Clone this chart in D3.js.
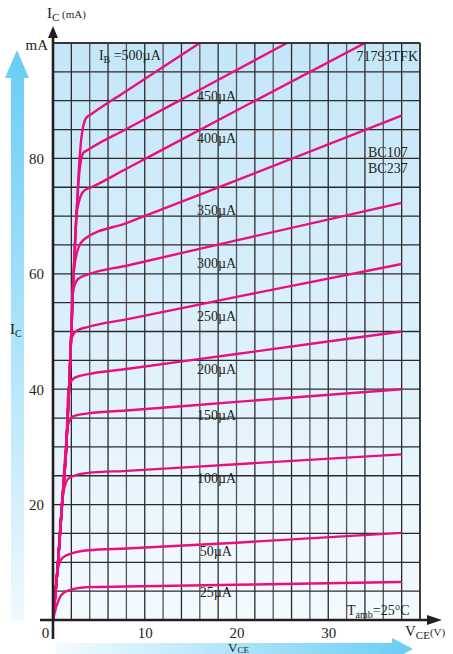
<!DOCTYPE html>
<html>
<head>
<meta charset="utf-8">
<script src="https://cdn.jsdelivr.net/npm/d3@7"></script>
<style>
  html, body { margin: 0; padding: 0; background: #fff; }
  svg text { font-family: "Liberation Serif", "DejaVu Serif", serif; fill: #231f20; }
</style>
</head>
<body>
<div id="chart"></div>
<script>
// output characteristics, V_CE (V) vs I_C (mA)
const xTicks = [0, 10, 20, 30];
const yTicks = [20, 40, 60, 80];

const c25  = [[0,0],[0.36,2.3],[0.91,4.35],[1.64,5.1],[3.83,5.7],[8,5.8],[20,6.1],[38,6.6]];
const c50  = [[0,0],[0.5,8.5],[0.8,10.3],[1.45,11.2],[3.83,12.1],[8,12.4],[20,13.4],[38,15.1]];
const c100 = [[0,0],[0.55,10],[0.98,20],[1.28,23.2],[1.82,24.7],[3.83,25.5],[8,25.85],[20,27.0],[38,28.7]];
const c150 = [[0,0],[0.55,10],[0.98,20],[1.4,30],[1.6,33.6],[2.19,35.3],[3.83,35.8],[8,36.3],[20,37.8],[38,40]];
const c200 = [[0,0],[0.55,10],[0.98,20],[1.45,30],[1.7,40.3],[2.37,42.0],[3.83,42.6],[8,43.5],[20,46.1],[38,50]];
const c250 = [[0,0],[0.55,10],[0.98,20],[1.45,30],[1.75,40],[2.0,48.7],[2.55,50.1],[3.83,50.8],[8,52.1],[20,56.0],[38,61.7]];
const c300 = [[0,0],[0.55,10],[0.98,20],[1.45,30],[1.75,40],[2.0,50],[2.15,56.8],[2.73,59.1],[3.83,59.9],[8,61.4],[20,65.8],[38,72.3]];
const c350 = [[0,0],[0.55,10],[0.98,20],[1.45,30],[1.75,40],[2.0,50],[2.25,60],[2.73,64.3],[3.4,66.0],[8,68.8],[20,76.2],[38,87.4]];
const c400 = [[0,0],[0.55,10],[0.98,20],[1.45,30],[1.75,40],[2.0,50],[2.25,60],[2.55,70],[2.85,72.6],[3.4,74.4],[4.2,75.0],[8,78.2],[20,88.3],[34,100]];
const c450 = [[0,0],[0.55,10],[0.98,20],[1.45,30],[1.75,40],[2.0,50],[2.25,60],[2.55,70],[2.9,78],[3.28,80.9],[3.83,81.5],[8,85.1],[16,91.9],[25.5,100]];
const c500 = [[0,0],[0.55,10],[0.98,20],[1.45,30],[1.75,40],[2.0,50],[2.25,60],[2.55,70],[2.9,80],[3.09,83.5],[3.6,87],[4.2,87.7],[8,91.7],[16,100]];

const curves = [c25, c50, c100, c150, c200, c250, c300, c350, c400, c450, c500];

// curve labels: text, V, mA (baseline start)
const labelText = ["25µA","50µA","100µA","150µA","200µA","250µA","300µA","350µA","400µA","450µA"];
const labelV    = [16, 16, 15.7, 15.7, 15.7, 15.7, 15.7, 15.7, 15.7, 15.7];
const labelI    = [3.9, 11.1, 23.8, 34.6, 42.6, 51.8, 61.0, 70.2, 82.6, 89.9];

const W = 453, H = 654;
const col = "#e8107f";
const lineCol = "#2b2b2b";

const svg = d3.select("#chart").append("svg")
    .attr("width", W)
    .attr("height", H);

const x = d3.scaleLinear().domain([0, 40]).range([53, 420]);
const y = d3.scaleLinear().domain([0, 100]).range([620, 43]);

const defs = svg.append("defs");

let bg = defs.append("linearGradient").attr("id", "bg")
    .attr("x1", 0).attr("y1", 0).attr("x2", 0).attr("y2", 1);
bg.append("stop").attr("offset", "0%").attr("stop-color", "#c4e6f8");
bg.append("stop").attr("offset", "100%").attr("stop-color", "#f4fafe");

let ga = defs.append("linearGradient").attr("id", "upArrow")
    .attr("x1", 0).attr("y1", 0).attr("x2", 0).attr("y2", 1);
ga.append("stop").attr("offset", "0%").attr("stop-color", "#68cdf5");
ga.append("stop").attr("offset", "100%").attr("stop-color", "#f0f9fe");

let gb = defs.append("linearGradient").attr("id", "rightArrow")
    .attr("x1", 0).attr("y1", 0).attr("x2", 1).attr("y2", 0);
gb.append("stop").attr("offset", "0%").attr("stop-color", "#f5fbfe");
gb.append("stop").attr("offset", "100%").attr("stop-color", "#68cdf5");

defs.append("clipPath").attr("id", "plotClip")
    .append("rect")
    .attr("x", x(0)).attr("y", y(100))
    .attr("width", x(40) - x(0)).attr("height", y(0) - y(100));

// big decorative arrows
svg.append("path")
    .attr("d", "M11,620 L11,78 L5,78 L17,50 L29,78 L24,78 L24,620 Z")
    .attr("fill", "url(#upArrow)");
svg.append("path")
    .attr("d", "M56,643 L392,643 L392,638 L413,649 L392,660 L392,655 L56,655 Z")
    .attr("fill", "url(#rightArrow)");

// plot background
svg.append("rect")
    .attr("x", x(0)).attr("y", y(100))
    .attr("width", x(40) - x(0)).attr("height", y(0) - y(100))
    .attr("fill", "url(#bg)");

// grid
let grid = svg.append("g");
grid.selectAll(".vg")
    .data(d3.range(2, 41, 2))
    .enter().append("line")
    .attr("x1", d => x(d)).attr("x2", d => x(d))
    .attr("y1", y(0)).attr("y2", y(100))
    .attr("stroke", (d, i) => i % 2 ? "#555" : lineCol)
    .attr("stroke-width", 1.3);
grid.selectAll(".hg")
    .data(d3.range(5, 101, 5))
    .enter().append("line")
    .attr("x1", x(0)).attr("x2", x(40))
    .attr("y1", d => y(d)).attr("y2", d => y(d))
    .attr("stroke", lineCol)
    .attr("stroke-width", 1.3);

// curve labels
let labels = svg.append("g").style("font-size", "14px");
labels.selectAll("text")
    .data(labelText)
    .enter().append("text")
    .attr("x", (d, i) => x(labelV[i]))
    .attr("y", (d, i) => y(labelI[i]))
    .text(d => d);

let ib = labels.append("text")
    .attr("x", x(5)).attr("y", y(97.1));
ib.append("tspan").text("I");
ib.append("tspan").attr("dy", 3).style("font-size", "10px").text("B");
ib.append("tspan").attr("dy", -3).text(" =500µA");

// curves
let line = d3.line()
    .x(d => x(d[0]))
    .y(d => y(d[1]))
    .curve(d3.curveMonotoneX);

svg.append("g")
    .attr("clip-path", "url(#plotClip)")
    .selectAll("path")
    .data(curves)
    .enter().append("path")
    .attr("d", line)
    .attr("fill", "none")
    .attr("stroke", col)
    .attr("stroke-width", 2.4)
    .attr("stroke-linejoin", "round");

// axes (labels only)
let xAxis = svg.append("g")
    .attr("transform", "translate(0," + y(0) + ")")
    .call(d3.axisBottom(x).tickValues(xTicks).tickSize(0).tickPadding(7));
xAxis.select(".domain").remove();
xAxis.selectAll(".tick text")
    .style("font-family", "Liberation Serif, serif")
    .style("font-size", "15px")
    .attr("fill", "#231f20")
    .attr("dx", d => d === 0 ? -8 : 0);

let yAxis = svg.append("g")
    .attr("transform", "translate(" + (x(0) - 9) + ",0)")
    .call(d3.axisLeft(y).tickValues(yTicks).tickSize(0).tickPadding(0));
yAxis.select(".domain").remove();
yAxis.selectAll(".tick text")
    .style("font-family", "Liberation Serif, serif")
    .style("font-size", "15px")
    .attr("fill", "#231f20");

// axis lines with arrow heads
svg.append("line")
    .attr("x1", x(0)).attr("x2", x(0))
    .attr("y1", 639).attr("y2", 36)
    .attr("stroke", "#231f20").attr("stroke-width", 2.6);
svg.append("path")
    .attr("d", "M" + (x(0) - 5) + ",38 L" + x(0) + ",26 L" + (x(0) + 5) + ",38 Z")
    .attr("fill", "#231f20");
svg.append("line")
    .attr("x1", 40).attr("x2", 430)
    .attr("y1", y(0)).attr("y2", y(0))
    .attr("stroke", "#231f20").attr("stroke-width", 2.6);
svg.append("path")
    .attr("d", "M427," + (y(0) - 5) + " L442," + y(0) + " L427," + (y(0) + 5) + " Z")
    .attr("fill", "#231f20");

// frame top/right
svg.append("line")
    .attr("x1", x(0)).attr("x2", x(40)).attr("y1", y(100)).attr("y2", y(100))
    .attr("stroke", lineCol).attr("stroke-width", 1.6);
svg.append("line")
    .attr("x1", x(40)).attr("x2", x(40)).attr("y1", y(100)).attr("y2", y(0))
    .attr("stroke", lineCol).attr("stroke-width", 1.6);

// texts
let t = svg.append("g").style("font-size", "14px");

let ic = t.append("text").attr("x", 47).attr("y", 18);
ic.append("tspan").style("font-size", "15px").text("I");
ic.append("tspan").attr("dy", 3).style("font-size", "11px").text("C");
ic.append("tspan").attr("dy", -3).style("font-size", "11px").text(" (mA)");

t.append("text").attr("x", 48).attr("y", 50).attr("text-anchor", "end")
    .style("font-size", "15px").text("mA");

let icl = t.append("text").attr("x", 10).attr("y", 334);
icl.append("tspan").style("font-size", "15px").text("I");
icl.append("tspan").attr("dy", 3).style("font-size", "10px").text("C");

let vce = t.append("text").attr("x", 405).attr("y", 636);
vce.append("tspan").style("font-size", "15px").text("V");
vce.append("tspan").attr("dy", 3).style("font-size", "11px").text("CE");
vce.append("tspan").attr("dy", -3).style("font-size", "11px").text("(V)");

let vce2 = t.append("text").attr("x", 228).attr("y", 652);
vce2.append("tspan").style("font-size", "13px").text("V");
vce2.append("tspan").attr("dy", 1).style("font-size", "9px").text("CE");

let tamb = t.append("text").attr("x", 347).attr("y", 615);
tamb.append("tspan").text("T");
tamb.append("tspan").attr("dy", 3).style("font-size", "10px").text("amb");
tamb.append("tspan").attr("dy", -3).text("=25°C");

t.append("text").attr("x", 418).attr("y", 61).attr("text-anchor", "end").text("71793TFK");
t.append("text").attr("x", 368).attr("y", 157).text("BC107");
t.append("text").attr("x", 368).attr("y", 173).text("BC237");
</script>
</body>
</html>
